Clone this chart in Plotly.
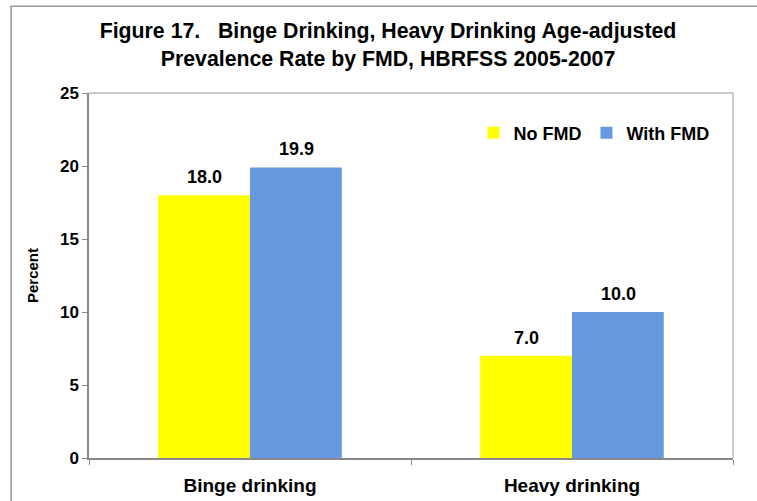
import plotly.graph_objects as go

categories = ["Binge drinking", "Heavy drinking"]
no_fmd = [18.0, 7.0]
with_fmd = [19.9, 10.0]
series_names = ["No FMD", "With FMD"]
y_ticks = [0, 5, 10, 15, 20, 25]

YELLOW = "#FFFF00"
BLUE = "#6699DD"
FONT = "Liberation Sans, Arial, sans-serif"

fig = go.Figure()
fig.add_trace(go.Bar(x=categories, y=no_fmd, name=series_names[0],
                     marker=dict(color=YELLOW, line=dict(width=0))))
fig.add_trace(go.Bar(x=categories, y=with_fmd, name=series_names[1],
                     marker=dict(color=BLUE, line=dict(width=0))))

# value labels above each bar (shifted half a bar width left/right of category centre)
for vals, shift in ((no_fmd, -46), (with_fmd, 46)):
    for cat, v in zip(categories, vals):
        fig.add_annotation(x=cat, y=v, text=f"{v:.1f}", showarrow=False,
                           xshift=shift, yanchor="bottom", yshift=6,
                           font=dict(family=FONT, size=18, color="black", weight="bold"))

# outer chart frame
fig.add_shape(type="rect", xref="paper", yref="paper",
              x0=-0.121, x1=1.2, y0=-0.3, y1=1.238,
              line=dict(color="#999999", width=1.5), layer="below")
# plot-area frame on top and right
fig.add_shape(type="path", xref="paper", yref="paper",
              path="M 0,1 L 1,1 L 1,0",
              line=dict(color="#BBBBBB", width=1.5))

fig.update_layout(
    width=757, height=501,
    margin=dict(l=89, r=24, t=93, b=43),
    paper_bgcolor="white", plot_bgcolor="white",
    barmode="group", bargap=0.43, bargroupgap=0,
    font=dict(family=FONT, color="black"),
    title=dict(text="Figure 17.   Binge Drinking, Heavy Drinking Age-adjusted<br>Prevalence Rate by FMD, HBRFSS 2005-2007",
               x=388 / 757, xanchor="center", y=1 - 38 / 501, yanchor="top",
               font=dict(family=FONT, size=21.3, color="black", weight="bold")),
    legend=dict(orientation="h", x=0.597, xanchor="left", y=0.89, yanchor="middle",
                font=dict(family=FONT, size=18, color="black", weight="bold"),
                bgcolor="rgba(0,0,0,0)", itemclick=False),
    showlegend=True,
)
fig.update_xaxes(showline=True, linecolor="#888888", linewidth=1.5,
                 ticks="outside", tickson="boundaries", ticklen=5, tickcolor="#888888",
                 ticklabelstandoff=9, automargin=False,
                 tickfont=dict(family=FONT, size=19, color="black", weight="bold"),
                 showgrid=False)
fig.update_yaxes(range=[0, 25], tickvals=y_ticks, showline=True, linecolor="#888888",
                 linewidth=1.5, ticks="outside", ticklen=5, tickcolor="#888888",
                 tickfont=dict(family=FONT, size=17, color="black", weight="bold"),
                 showgrid=False, zeroline=False, automargin=False,
                 title=dict(text="Percent", standoff=18,
                            font=dict(family=FONT, size=15, color="black", weight="bold")))

fig.write_html("out.html")
